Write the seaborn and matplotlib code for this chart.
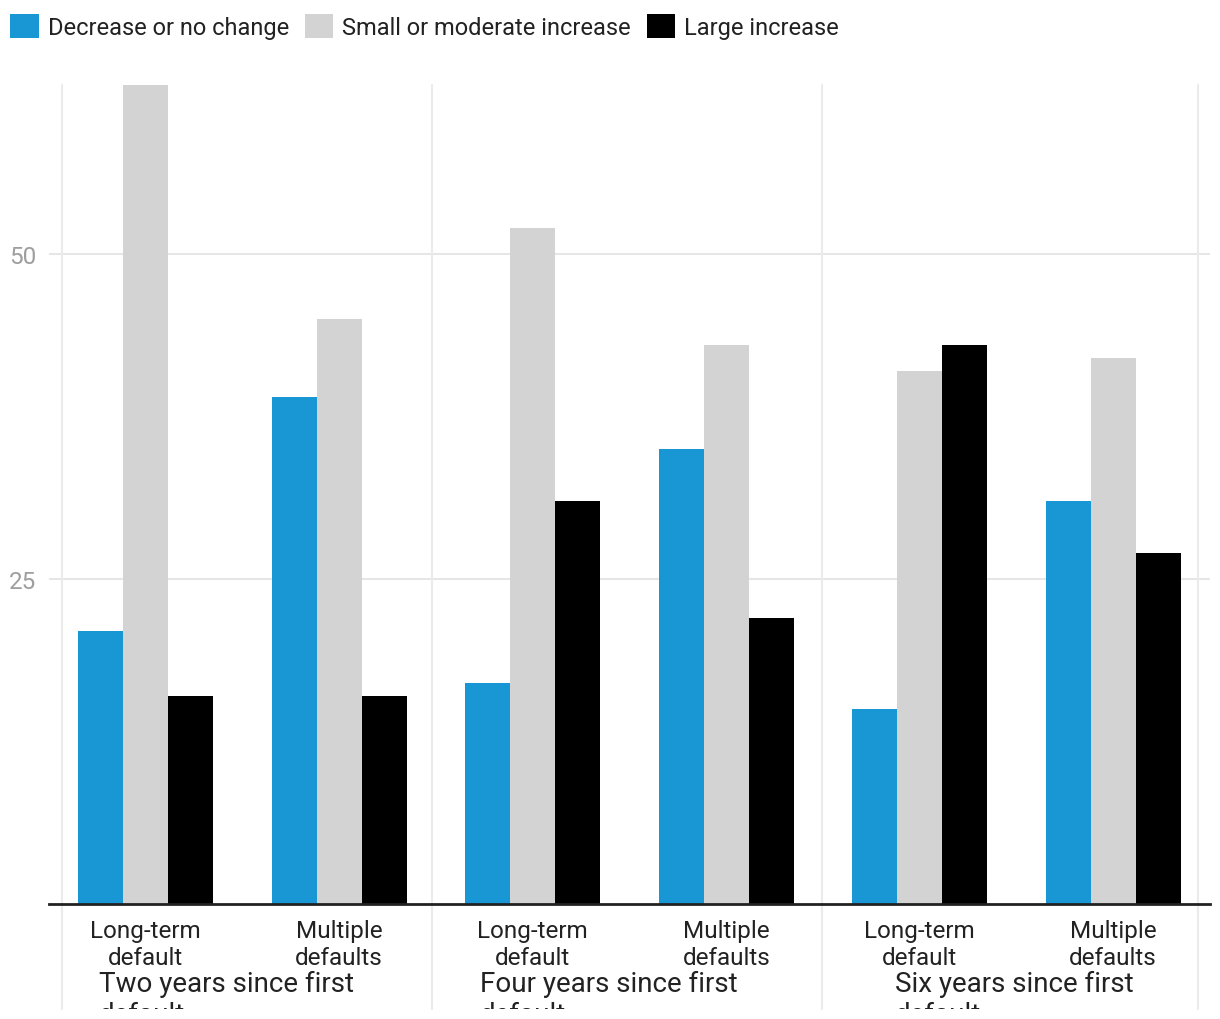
import matplotlib
matplotlib.use("Agg")
import matplotlib.pyplot as plt
import matplotlib.transforms as mtransforms
from matplotlib.patches import Patch
import seaborn as sns
import pandas as pd

periods = ["Two years since first\ndefault", "Four years since first\ndefault", "Six years since first\ndefault"]
types = ["Long-term\ndefault", "Multiple\ndefaults"]
series = ["Decrease or no change", "Small or moderate increase", "Large increase"]
decrease = [21, 39, 17, 35, 15, 31]
small = [63, 45, 52, 43, 41, 42]
large = [16, 16, 31, 22, 43, 27]
colors = ["#1996d4", "#d3d3d3", "#000000"]

keys = [f"{p}|{t}" for p in periods for t in types]
rows = []
for s, vals in zip(series, [decrease, small, large]):
    for k, v in zip(keys, vals):
        rows.append({"cat": k, "series": s, "value": v})
df = pd.DataFrame(rows)

sns.set_theme(style="white")
plt.rcParams["font.family"] = ["Roboto", "DejaVu Sans"]

W, H = 1220, 1020
fig = plt.figure(figsize=(W / 100, H / 100), dpi=100)
ax = fig.add_axes([49 / W, 1 - 905 / H, (1210 - 49) / W, (905 - 86) / H])

sns.barplot(data=df, x="cat", y="value", hue="series", order=keys, hue_order=series,
            palette=colors, width=0.7, gap=0, saturation=1, ax=ax, legend=False,
            edgecolor="none", linewidth=0, zorder=3)

ax.set_xlim(-0.5, 5.5)
ax.set_ylim(0, 63)
ax.set_yticks([25, 50])
ax.set_yticklabels(["25", "50"], color="#9e9e9e", fontsize=17.5)
ax.tick_params(axis="y", length=0, pad=9.4)
ax.set_xticks(range(len(keys)))
ax.set_xticklabels([t for p in periods for t in types], fontsize=17.5, color="#222222",
                   linespacing=1.22)
ax.tick_params(axis="x", length=0, pad=10.8)
ax.set_xlabel("")
ax.set_ylabel("")
ax.yaxis.grid(True, color="#e4e4e4", linewidth=1.3, zorder=0)
ax.xaxis.grid(False)
for s in ["top", "left", "right"]:
    ax.spines[s].set_visible(False)
ax.spines["bottom"].set_color("#222222")
ax.spines["bottom"].set_linewidth(2)
ax.spines["bottom"].set_zorder(5)

# group separator lines (extend below the axis)
trans = mtransforms.blended_transform_factory(ax.transData, ax.transAxes)
ybot = -(1010 - 905) / (905 - 86)
for xpix in [62, 432, 823, 1199]:
    xd = (xpix - 146) / 193.6
    ax.plot([xd, xd], [ybot, 1], transform=trans, color="#ebebeb", lw=1.5,
            clip_on=False, zorder=1)

# group labels (clipped at the bottom of the chart area, as in the original)
gtrans = mtransforms.blended_transform_factory(ax.transData, fig.transFigure)
for xpix, p in zip([227, 609, 1015], periods):
    xd = (xpix - 146) / 193.6
    t = ax.text(xd, 1 - 971 / H, p, transform=gtrans,
                ha="center", va="top", multialignment="left",
                fontsize=20, color="#222222", linespacing=1.2)
    t.set_clip_box(mtransforms.TransformedBbox(
        mtransforms.Bbox.from_extents(0, 10 / H, 1, 1), fig.transFigure))
    t.set_clip_on(True)

handles = [Patch(facecolor=c, edgecolor="none") for c in colors]
fig.legend(handles, series, loc="upper left", bbox_to_anchor=(1 / W, 1 - 6 / H), ncol=3,
           frameon=False, fontsize=17, handlelength=1.19, handleheight=1.19,
           handletextpad=0.38, columnspacing=0.68, labelcolor="#222222", borderaxespad=0)

fig.savefig("out.png", dpi=100)
